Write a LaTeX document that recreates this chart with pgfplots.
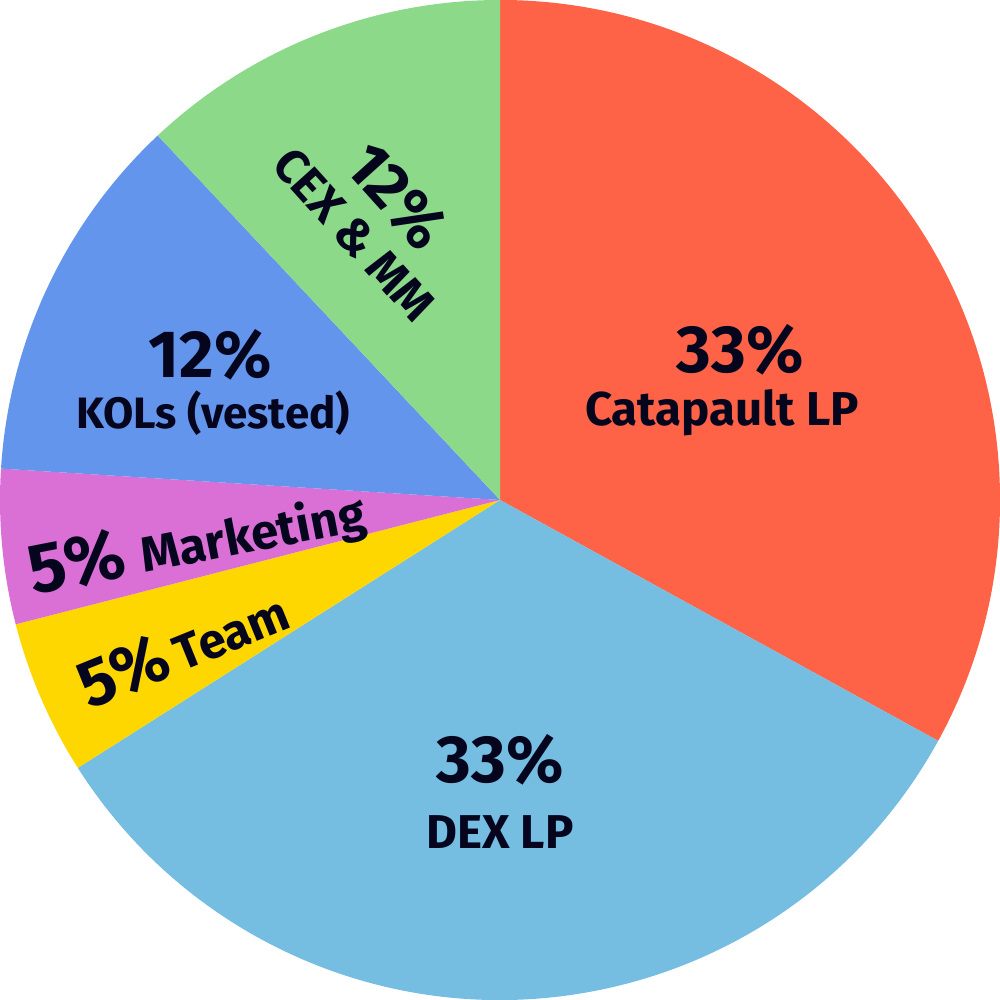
\documentclass[border=0pt]{standalone}
\usepackage{pgfplots}
\usepackage{pgfplotstable}
\pgfplotsset{compat=1.18}
\usepackage{fontspec}
\setmainfont{Fira Sans}

\definecolor{cat}{HTML}{FF6347}
\definecolor{dex}{HTML}{75BDE1}
\definecolor{team}{HTML}{FFD700}
\definecolor{mkt}{HTML}{DA70D6}
\definecolor{kol}{HTML}{6495ED}
\definecolor{cex}{HTML}{8CD98A}
\definecolor{txt}{HTML}{05051E}

% share of each slice, clockwise from 12 o'clock
\pgfplotstableread{
value color
33 cat
33 dex
5  team
5  mkt
12 kol
12 cex
}\piedata

\begin{document}
\begin{tikzpicture}
\begin{axis}[
    name=pie,
    hide axis,
    x=5cm, y=5cm,
    xmin=-1, xmax=1, ymin=-1, ymax=1,
    clip=false,
]
\pgfplotstablegetrowsof{\piedata}
\pgfmathtruncatemacro\N{\pgfplotsretval-1}
\def\angA{90}
\pgfplotsforeachungrouped \i in {0,...,\N}{
    \pgfplotstablegetelem{\i}{value}\of\piedata \let\v\pgfplotsretval
    \pgfplotstablegetelem{\i}{color}\of\piedata \let\c\pgfplotsretval
    \pgfmathsetmacro\angB{\angA-3.6*\v}
    \edef\cmd{\noexpand\fill[\c] (axis cs:0,0) -- (axis cs:{cos(\angA)},{sin(\angA)})
        arc[start angle=\angA, end angle=\angB, radius=5cm] -- cycle;}
    \cmd
    \global\let\angA\angB
}

\node[text=txt, font=\bfseries\fontsize{19}{20}\selectfont] at (axis cs:0.48,0.30) {33\%};
\node[text=txt, font=\bfseries\fontsize{13.5}{15}\selectfont] at (axis cs:0.444,0.174) {Catapault LP};

\node[text=txt, font=\bfseries\fontsize{19}{20}\selectfont] at (axis cs:0,-0.52) {33\%};
\node[text=txt, font=\bfseries\fontsize{13.5}{15}\selectfont] at (axis cs:0,-0.664) {DEX LP};

\node[text=txt, font=\bfseries\fontsize{19}{20}\selectfont] at (axis cs:-0.58,0.29) {12\%};
\node[text=txt, font=\bfseries\fontsize{12.5}{14}\selectfont] at (axis cs:-0.574,0.174) {KOLs (vested)};

\node[text=txt, rotate=-48, align=center, font=\bfseries] at (axis cs:-0.244,0.574)
    {{\fontsize{18}{21}\selectfont 12\%}\\[3pt]{\fontsize{13.5}{15}\selectfont CEX \& MM}};

\node[text=txt, rotate=11, font=\bfseries] at (axis cs:-0.606,-0.085)
    {{\fontsize{20}{22}\selectfont 5\%}\hspace{0.45em}{\fontsize{14}{16}\selectfont Marketing}};
\node[text=txt, rotate=22, font=\bfseries] at (axis cs:-0.634,-0.294)
    {{\fontsize{19}{22}\selectfont 5\%}\hspace{0.25em}{\fontsize{14}{16}\selectfont Team}};
\end{axis}
\pgfresetboundingbox
\path[use as bounding box] (pie.south west) rectangle (pie.north east);
\end{tikzpicture}
\end{document}
